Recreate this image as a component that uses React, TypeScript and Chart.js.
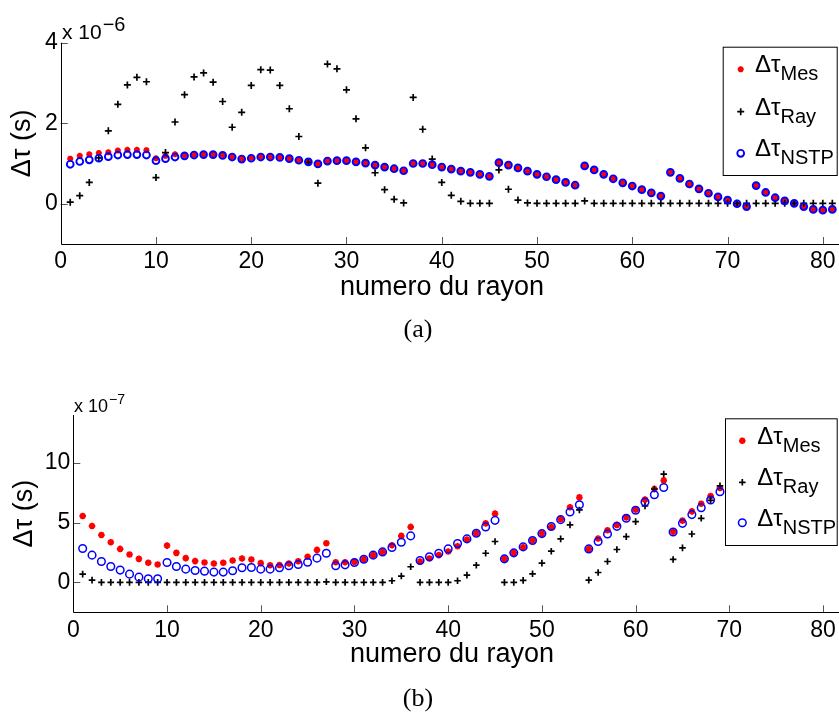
import React, { useEffect, useRef } from "react";
import { Chart, registerables } from "chart.js";

Chart.register(...registerables);

const X_TICKS = [0, 10, 20, 30, 40, 50, 60, 70, 80];
const Y_TICKS_A = [0, 2, 4];
const Y_TICKS_B = [0, 5, 10];
const SERIES_NAMES = ["Mes", "Ray", "NSTP"];

// (a) values in units of 1e-6 s, rays 1..81
const MES_A = [
  1.12, 1.19, 1.23, 1.26, 1.28, 1.32, 1.34, 1.34, 1.33, 1.13,
  1.19, 1.23, 1.21, 1.22, 1.23, 1.23, 1.21, 1.17, 1.12, 1.14,
  1.17, 1.17, 1.16, 1.12, 1.08, 1.04, 0.99, 1.06, 1.07, 1.07,
  1.04, 1.01, 0.96, 0.91, 0.87, 0.82, 1.0, 1.0, 0.97, 0.91,
  0.86, 0.81, 0.78, 0.73, 0.68, 1.02, 0.96, 0.89, 0.81, 0.73,
  0.67, 0.6, 0.53, 0.46, 0.94, 0.84, 0.73, 0.62, 0.52, 0.44,
  0.35, 0.27, 0.19, 0.78, 0.63, 0.49, 0.37, 0.26, 0.17, 0.09,
  0.0, -0.07, 0.45, 0.28, 0.15, 0.07, 0.01, -0.07, -0.14, -0.16,
  -0.14,
];
const RAY_A = [
  0.04, 0.2, 0.53, 1.14, 1.81, 2.47, 2.95, 3.14, 3.03, 0.65,
  1.27, 2.03, 2.71, 3.15, 3.25, 3.02, 2.54, 1.9, 2.27, 2.94,
  3.33, 3.32, 2.94, 2.36, 1.67, 1.03, 0.51, 3.47, 3.35, 2.83,
  2.11, 1.39, 0.77, 0.35, 0.11, 0.02, 2.64, 1.85, 1.11, 0.53,
  0.21, 0.06, 0.01, 0.01, 0.01, 0.84, 0.36, 0.09, 0.02, 0.01,
  0.01, 0.01, 0.01, 0.01, 0.07, 0.01, 0.01, 0.01, 0.01, 0.01,
  0.01, 0.01, 0.01, 0.01, 0.01, 0.01, 0.01, 0.01, 0.01, 0.01,
  0.01, 0.01, 0.01, 0.01, 0.01, 0.01, 0.01, 0.01, 0.01, 0.01,
  0.01,
];
const NSTP_A = [
  0.98, 1.05, 1.09, 1.13, 1.17, 1.21, 1.22, 1.22, 1.21, 1.07,
  1.12, 1.16, 1.19, 1.21, 1.22, 1.22, 1.2, 1.16, 1.11, 1.13,
  1.16, 1.16, 1.15, 1.12, 1.08, 1.04, 0.99, 1.06, 1.07, 1.07,
  1.04, 1.01, 0.96, 0.91, 0.87, 0.82, 1.0, 1.0, 0.97, 0.91,
  0.86, 0.81, 0.78, 0.73, 0.68, 1.02, 0.96, 0.89, 0.81, 0.73,
  0.67, 0.6, 0.53, 0.46, 0.94, 0.84, 0.73, 0.62, 0.52, 0.44,
  0.35, 0.27, 0.19, 0.78, 0.63, 0.49, 0.37, 0.26, 0.17, 0.09,
  0.0, -0.07, 0.45, 0.28, 0.15, 0.07, 0.01, -0.07, -0.14, -0.16,
  -0.14,
];

// (b) values in units of 1e-7 s, rays 1..69
const MES_B = [
  5.55, 4.72, 3.97, 3.36, 2.8, 2.33, 1.97, 1.64, 1.5, 3.08,
  2.47, 2.03, 1.78, 1.67, 1.58, 1.64, 1.83, 2.0, 1.92, 1.61,
  1.44, 1.45, 1.58, 1.77, 2.14, 2.72, 3.28, 1.69, 1.69, 1.72,
  1.94, 2.28, 2.55, 3.11, 3.89, 4.64, 1.75, 2.0, 2.28, 2.58,
  3.03, 3.58, 4.11, 4.94, 5.75, 1.97, 2.47, 2.94, 3.5, 4.08,
  4.64, 5.28, 6.28, 7.11, 2.8, 3.67, 4.36, 4.81, 5.44, 6.08,
  6.92, 7.81, 8.53, 4.25, 5.17, 5.94, 6.58, 7.22, 7.89,
];
const RAY_B = [
  0.69, 0.19, 0, 0, 0, 0, 0, 0, 0, 0,
  0, 0, 0, 0, 0, 0, 0, 0, 0, 0,
  0, 0, 0, 0, 0, 0, 0.05, 0, 0, 0,
  0, 0, 0, 0.14, 0.53, 1.31, 0, 0, 0, 0,
  0.14, 0.61, 1.44, 2.44, 3.42, 0, 0, 0.17, 0.72, 1.61,
  2.61, 3.64, 4.81, 6.06, 0.19, 0.83, 1.75, 2.75, 3.83, 5.08,
  6.39, 7.81, 9.06, 1.92, 2.89, 4.05, 5.36, 6.86, 8.08,
];
const NSTP_B = [
  2.83, 2.28, 1.75, 1.33, 1.03, 0.69, 0.44, 0.31, 0.31, 1.67,
  1.33, 1.11, 1.0, 0.94, 0.86, 0.86, 0.97, 1.22, 1.25, 1.11,
  1.11, 1.22, 1.39, 1.5, 1.69, 2.03, 2.44, 1.39, 1.47, 1.67,
  1.94, 2.28, 2.55, 2.92, 3.36, 3.89, 1.83, 2.14, 2.44, 2.8,
  3.25, 3.64, 4.11, 4.64, 5.19, 1.97, 2.47, 2.97, 3.5, 4.08,
  4.67, 5.25, 5.89, 6.5, 2.8, 3.42, 4.05, 4.69, 5.36, 6.03,
  6.72, 7.33, 7.94, 4.22, 4.94, 5.67, 6.25, 6.89, 7.58,
];

const SANS = "'Liberation Sans', Arial, Helvetica, sans-serif";
const SERIF = "'Liberation Serif', 'Times New Roman', serif";

const toPoints = (arr: number[]) => arr.map((y, i) => ({ x: i + 1, y }));

function drawMarker(ctx: CanvasRenderingContext2D, ds: any, x: number, y: number) {
  const r = ds.pointRadius;
  ctx.save();
  ctx.strokeStyle = ds.borderColor;
  ctx.lineWidth = ds.borderWidth;
  ctx.beginPath();
  if (ds.pointStyle === "circle") {
    ctx.arc(x, y, r, 0, Math.PI * 2);
  } else {
    ctx.moveTo(x - r, y); ctx.lineTo(x + r, y);
    ctx.moveTo(x, y - r); ctx.lineTo(x, y + r);
    if (ds.pointStyle === "star") {
      const d = r * Math.SQRT1_2;
      ctx.moveTo(x - d, y - d); ctx.lineTo(x + d, y + d);
      ctx.moveTo(x - d, y + d); ctx.lineTo(x + d, y - d);
    }
  }
  ctx.stroke();
  ctx.restore();
}

const decoPlugin = {
  id: "deco",
  afterDraw(chart: any, _args: any, o: any) {
    const ctx: CanvasRenderingContext2D = chart.ctx;
    const { left, right, top, bottom } = chart.chartArea;
    const xs = chart.scales.x;
    const ys = chart.scales.y;
    ctx.save();
    // inward tick marks
    ctx.strokeStyle = "#555";
    ctx.lineWidth = 1;
    ctx.beginPath();
    X_TICKS.forEach((v) => {
      const px = Math.round(xs.getPixelForValue(v)) + 0.5;
      if (px - left < 3) return;
      ctx.moveTo(px, bottom);
      ctx.lineTo(px, bottom - 7);
    });
    (o.yTicks as number[]).forEach((v) => {
      const py = Math.round(ys.getPixelForValue(v)) + 0.5;
      ctx.moveTo(left, py);
      ctx.lineTo(left + 7, py);
    });
    ctx.stroke();
    // axis lines
    ctx.strokeStyle = "#000";
    ctx.beginPath();
    const l = Math.round(left) + 0.5;
    const b = Math.round(bottom) + 0.5;
    ctx.moveTo(l, top);
    ctx.lineTo(l, b);
    ctx.lineTo(right, b);
    ctx.stroke();

    ctx.fillStyle = "#000";
    // y title
    ctx.save();
    ctx.translate(o.yTitleX, (top + bottom) / 2);
    ctx.rotate(-Math.PI / 2);
    ctx.textAlign = "center";
    ctx.textBaseline = "middle";
    ctx.font = `27px ${SANS}`;
    ctx.fillText("\u0394\u03c4 (s)", 0, 0);
    ctx.restore();
    // x title
    ctx.textAlign = "center";
    ctx.textBaseline = "alphabetic";
    ctx.font = `27px ${SANS}`;
    ctx.fillText("numero du rayon", o.xTitleX, o.xTitleY);
    // exponent
    ctx.textAlign = "left";
    ctx.font = `${o.expSize}px ${SANS}`;
    ctx.fillText("x 10", o.expX, o.expY);
    const w = ctx.measureText("x 10").width;
    ctx.font = `${o.supSize}px ${SANS}`;
    ctx.fillText(o.exp, o.expX + w + 1, o.expY - o.supRaise);
    // caption
    ctx.textAlign = "center";
    ctx.font = `26px ${SERIF}`;
    ctx.fillText(o.caption, o.captionX, o.captionY);
    // legend
    const L = o.legend;
    ctx.fillStyle = "#fff";
    ctx.fillRect(L.x, L.y, L.w, L.h);
    ctx.strokeStyle = "#000";
    ctx.lineWidth = 1;
    ctx.strokeRect(L.x + 0.5, L.y + 0.5, L.w, L.h);
    SERIES_NAMES.forEach((name, i) => {
      const ry = L.rows[i];
      drawMarker(ctx, chart.data.datasets[i], L.mx, ry);
      ctx.fillStyle = "#000";
      ctx.textAlign = "left";
      ctx.textBaseline = "alphabetic";
      ctx.font = `24px ${SANS}`;
      ctx.fillText("\u0394\u03c4", L.tx, ry + 3);
      const tw = ctx.measureText("\u0394\u03c4").width;
      ctx.font = `20px ${SANS}`;
      ctx.fillText(name, L.tx + tw, ry + 11);
    });
    ctx.restore();
  },
};

function makeConfig(p: any) {
  return {
    type: "scatter",
    data: {
      datasets: [
        {
          label: "Mes", data: toPoints(p.mes), order: 3,
          pointStyle: "star", pointRadius: p.starR, borderColor: "#ff0000",
          backgroundColor: "#ff0000", borderWidth: 2,
        },
        {
          label: "Ray", data: toPoints(p.ray), order: 2,
          pointStyle: "cross", pointRadius: p.crossR, borderColor: "#000000",
          backgroundColor: "#000000", borderWidth: 1.7,
        },
        {
          label: "NSTP", data: toPoints(p.nstp), order: 1,
          pointStyle: "circle", pointRadius: p.circR, borderColor: "#0000ff",
          backgroundColor: "rgba(0,0,0,0)", borderWidth: p.circW,
        },
      ],
    },
    options: {
      responsive: false,
      animation: false,
      devicePixelRatio: 1,
      events: [],
      layout: { autoPadding: false, padding: { top: p.padTop, bottom: p.padBottom, left: 0, right: 0 } },
      plugins: { legend: { display: false }, tooltip: { enabled: false }, deco: p.deco },
      scales: {
        x: {
          type: "linear", min: 0, max: 81.7,
          grid: { display: false, drawTicks: false, tickLength: 0 }, border: { display: false },
          afterBuildTicks: (s: any) => { s.ticks = X_TICKS.map((v) => ({ value: v })); },
          afterFit: (s: any) => {
            s.height = 40;
            s.paddingLeft = 0; s.paddingRight = 0; s.paddingTop = 0; s.paddingBottom = 0;
          },
          ticks: { autoSkip: false, maxRotation: 0, padding: p.xPad, color: "#000", font: { family: SANS, size: 23, lineHeight: 1 } },
        },
        y: {
          type: "linear", min: p.yMin, max: p.yMax,
          grid: { display: false, drawTicks: false, tickLength: 0 }, border: { display: false },
          afterBuildTicks: (s: any) => { s.ticks = p.yTicks.map((v: number) => ({ value: v })); },
          afterFit: (s: any) => {
            s.width = p.yWidth;
            s.paddingLeft = 0; s.paddingRight = 0; s.paddingTop = 0; s.paddingBottom = 0;
          },
          ticks: { autoSkip: false, padding: 3, color: "#000", font: { family: SANS, size: 23 } },
        },
      },
    },
    plugins: [decoPlugin],
  } as any;
}

export default function App() {
  const topRef = useRef<HTMLCanvasElement>(null);
  const botRef = useRef<HTMLCanvasElement>(null);

  useEffect(() => {
    const c1 = new Chart(topRef.current as HTMLCanvasElement, makeConfig({
      mes: MES_A, ray: RAY_A, nstp: NSTP_A,
      yMin: -1, yMax: 4, yTicks: Y_TICKS_A, yWidth: 60.7,
      padTop: 42.7, padBottom: 73, xPad: 6,
      starR: 3, crossR: 3.5, circR: 3.4, circW: 1.9,
      deco: {
        yTicks: Y_TICKS_A, yTitleX: 23, xTitleX: 442, xTitleY: 295,
        exp: "\u22126", expX: 62, expY: 38.5, expSize: 21, supSize: 20, supRaise: 8,
        caption: "(a)", captionX: 418, captionY: 337,
        legend: { x: 722.7, y: 46.7, w: 114, h: 128.3, mx: 740.7, tx: 755, rows: [69.3, 111.7, 153.3] },
      },
    }));
    const c2 = new Chart(botRef.current as HTMLCanvasElement, makeConfig({
      mes: MES_B, ray: RAY_B, nstp: NSTP_B,
      yMin: -2.5, yMax: 14, yTicks: Y_TICKS_B, yWidth: 73.3,
      padTop: 58, padBottom: 62.7, xPad: 7,
      starR: 3.3, crossR: 3.3, circR: 3.8, circW: 1.5,
      deco: {
        yTicks: Y_TICKS_B, yTitleX: 25, xTitleX: 452, xTitleY: 304.7,
        exp: "\u22127", expX: 74, expY: 54.7, expSize: 18, supSize: 14, supRaise: 8,
        caption: "(b)", captionX: 418, captionY: 349,
        legend: { x: 725, y: 61.3, w: 111.7, h: 126.7, mx: 742.3, tx: 757.3, rows: [83.7, 125.3, 165.7] },
      },
    }));
    return () => { c1.destroy(); c2.destroy(); };
  }, []);

  return (
    <div style={{ position: "absolute", left: 0, top: 0, width: 839, height: 715, background: "#fff", overflow: "hidden" }}>
      <canvas ref={topRef} width={839} height={357} style={{ position: "absolute", left: 0, top: 0 }} />
      <canvas ref={botRef} width={839} height={358} style={{ position: "absolute", left: 0, top: 357 }} />
    </div>
  );
}
